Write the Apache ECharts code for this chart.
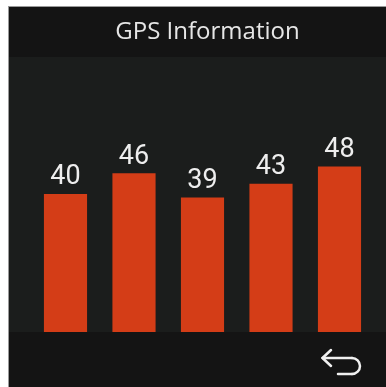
<!DOCTYPE html>
<html>
<head>
<meta charset="utf-8">
<script src="https://cdn.jsdelivr.net/npm/echarts@6/dist/echarts.min.js"></script>
<style>
  html, body { margin: 0; padding: 0; background: #ffffff; }
  #chart { width: 386px; height: 387px; }
</style>
</head>
<body>
<div id="chart"></div>
<script>
// Satellite readings shown on the GPS screen
const categories = ['S1', 'S2', 'S3', 'S4', 'S5'];
const values = [40, 46, 39, 43, 48];
const titleText = 'GPS Information';

const chart = echarts.init(document.getElementById('chart'), null, { renderer: 'canvas' });

const iconStyle = { stroke: '#f0f0f0', lineWidth: 2.5, lineCap: 'round', lineJoin: 'round', fill: null };

chart.setOption({
  backgroundColor: '#ffffff',
  animation: false,
  title: {
    text: titleText,
    left: 202.5,
    top: 15,
    textAlign: 'center',
    textStyle: {
      color: '#e6e6e6',
      fontFamily: 'Open Sans',
      fontWeight: 'normal',
      fontSize: 24
    }
  },
  grid: { left: 31.25, right: 12.25, top: 125, bottom: 55 },
  xAxis: {
    type: 'category',
    data: categories,
    show: false
  },
  yAxis: {
    type: 'value',
    min: 0,
    max: 60,
    show: false,
    splitLine: { show: false }
  },
  graphic: [
    // device frame
    { type: 'rect', z: -10, shape: { x: 8, y: 6, width: 378, height: 381 }, style: { fill: '#141414' } },
    { type: 'rect', z: -9, shape: { x: 9, y: 57, width: 377, height: 275 }, style: { fill: '#1b1d1c' } },
    { type: 'line', z: -8, shape: { x1: 8.5, y1: 6, x2: 8.5, y2: 387 }, style: { stroke: '#9a9a9a', lineWidth: 1 } },
    { type: 'line', z: -8, shape: { x1: 8, y1: 6.5, x2: 386, y2: 6.5 }, style: { stroke: '#9a9a9a', lineWidth: 1 } },
    // back button
    { type: 'polyline', z: 10, shape: { points: [[331, 350], [322.5, 358], [331, 366]] }, style: iconStyle },
    { type: 'line', z: 10, shape: { x1: 322.5, y1: 358, x2: 352, y2: 358 }, style: iconStyle },
    { type: 'arc', z: 10, shape: { cx: 352, cy: 366, r: 8, startAngle: -Math.PI / 2, endAngle: Math.PI / 2, clockwise: true }, style: iconStyle },
    { type: 'line', z: 10, shape: { x1: 352, y1: 374, x2: 338, y2: 374 }, style: iconStyle }
  ],
  series: [{
    type: 'bar',
    data: values,
    barWidth: '63%',
    itemStyle: { color: '#d43d17' },
    label: {
      show: true,
      position: 'top',
      distance: 3,
      color: '#eeeeee',
      fontFamily: 'Roboto',
      fontSize: 27
    }
  }]
});
</script>
</body>
</html>
